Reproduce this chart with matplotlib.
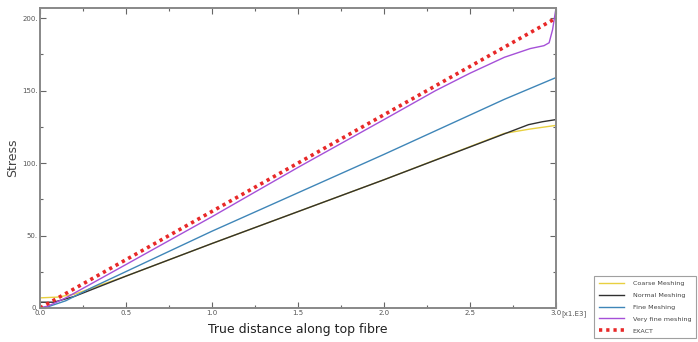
import matplotlib
matplotlib.use("Agg")
import matplotlib.pyplot as plt
from matplotlib.ticker import MultipleLocator

# distance along top fibre, in units of 1e3
exact_x = [0.0, 3.0]
exact_y = [0.0, 200.0]

vfine_x = [0.0, 0.05, 0.15, 0.5, 1.0, 1.5, 2.0, 2.3, 2.5, 2.7, 2.85, 2.93, 2.96, 2.98, 3.0]
vfine_y = [0.0, 1.5, 7.0, 30.0, 63.0, 97.0, 130.0, 150.0, 162.0, 173.0, 179.0, 181.0, 183.0, 192.0, 207.0]

fine_x = [0.0, 0.05, 0.15, 0.3, 1.0, 2.0, 2.7, 3.0]
fine_y = [0.0, 1.0, 5.0, 14.0, 53.0, 106.0, 144.0, 159.0]

normal_x = [0.0, 0.08, 0.2, 0.5, 1.0, 2.0, 2.84, 2.92, 3.0]
normal_y = [4.0, 4.0, 8.0, 22.0, 44.5, 88.5, 126.5, 128.5, 130.0]

coarse_x = [0.0, 0.1, 0.2, 0.5, 1.0, 2.0, 2.7, 2.85, 3.0]
coarse_y = [7.0, 7.5, 9.5, 22.0, 44.5, 88.5, 120.5, 123.5, 126.0]

xticks = [0.0, 0.5, 1.0, 1.5, 2.0, 2.5, 3.0]
xticklabels = ["0.0", "0.5", "1.0", "1.5", "2.0", "2.5", "3.0"]
yticks = [0, 50, 100, 150, 200]
yticklabels = ["0.", "50.", "100.", "150.", "200."]

fig = plt.figure(figsize=(6.98, 3.42), dpi=100)
ax = fig.add_axes([40 / 698, 1 - 308 / 342, 516 / 698, 300 / 342])

ax.plot(coarse_x, coarse_y, color="#e8d040", lw=1.0, label="Coarse Meshing")
ax.plot(normal_x, normal_y, color="#303030", lw=1.0, label="Normal Meshing")
ax.plot(fine_x, fine_y, color="#3f86b8", lw=1.0, label="Fine Meshing")
ax.plot(vfine_x, vfine_y, color="#a550d8", lw=1.0, label="Very fine meshing")
ax.plot(exact_x, exact_y, color="#e82828", lw=2.6, ls=(0, (0.9, 1.1)), label="EXACT")

ax.set_xlim(0, 3.0)
ax.set_ylim(0, 207)
ax.set_xticks(xticks)
ax.set_xticklabels(xticklabels)
ax.set_yticks(yticks)
ax.set_yticklabels(yticklabels)
ax.xaxis.set_minor_locator(MultipleLocator(0.25))
ax.yaxis.set_minor_locator(MultipleLocator(25))
ax.tick_params(which="both", direction="in", top=True, right=True,
               color="#666666", labelsize=5, labelcolor="#555555", pad=1.5)
ax.tick_params(which="major", length=4, width=0.8)
ax.tick_params(which="minor", length=2.5, width=0.8)
for s in ax.spines.values():
    s.set_color("#888888")
    s.set_linewidth(1.4)

ax.text(3.03, -0.007, "[x1.E3]", transform=ax.get_xaxis_transform(),
        ha="left", va="top", fontsize=5, color="#555555")

ax.set_ylabel("Stress", fontsize=9, color="#444444", labelpad=2)
ax.set_xlabel("True distance along top fibre", fontsize=9, color="#222222", labelpad=5)

leg = fig.legend(loc="upper left", bbox_to_anchor=(591 / 698, 1 - 273 / 342),
                 fontsize=4.6, frameon=True, fancybox=False, handlelength=4,
                 labelspacing=1.0, borderpad=0.7, handletextpad=1.3,
                 labelcolor="#444444")
leg.get_frame().set_edgecolor("#888888")
leg.get_frame().set_linewidth(0.8)

fig.savefig("out.png", dpi=100)
